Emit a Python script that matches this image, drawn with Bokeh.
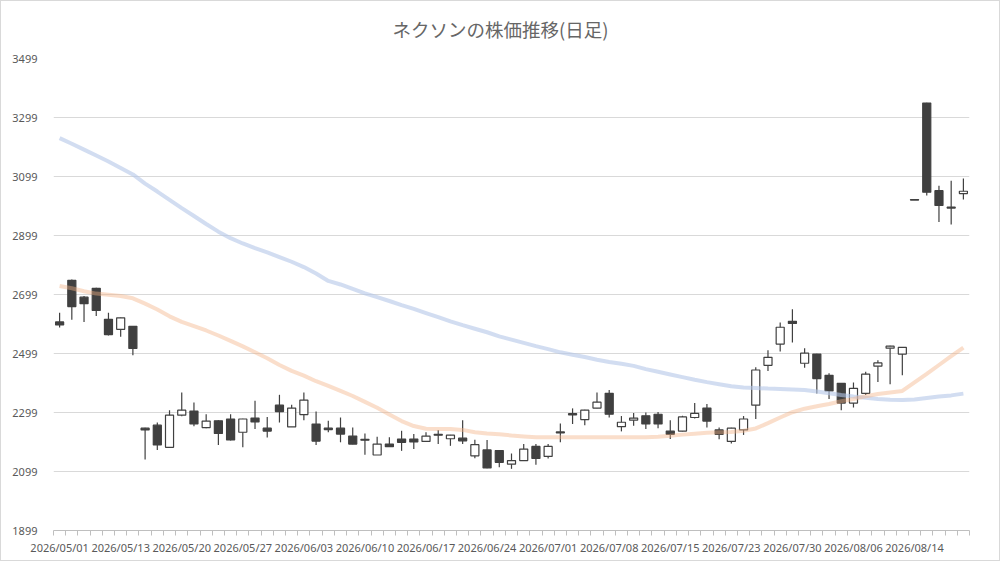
from bokeh.plotting import figure
from bokeh.models import Range1d, FixedTicker, ColumnDataSource
from bokeh.embed import file_html
from bokeh.resources import INLINE

title_text = "ネクソンの株価推移(日足)"

dates = [
    "2026/05/01", "2026/05/07", "2026/05/08", "2026/05/11", "2026/05/12",
    "2026/05/13", "2026/05/14", "2026/05/15", "2026/05/18", "2026/05/19",
    "2026/05/20", "2026/05/21", "2026/05/22", "2026/05/25", "2026/05/26",
    "2026/05/27", "2026/05/28", "2026/05/29", "2026/06/01", "2026/06/02",
    "2026/06/03", "2026/06/04", "2026/06/05", "2026/06/08", "2026/06/09",
    "2026/06/10", "2026/06/11", "2026/06/12", "2026/06/15", "2026/06/16",
    "2026/06/17", "2026/06/18", "2026/06/19", "2026/06/22", "2026/06/23",
    "2026/06/24", "2026/06/25", "2026/06/26", "2026/06/29", "2026/06/30",
    "2026/07/01", "2026/07/02", "2026/07/03", "2026/07/06", "2026/07/07",
    "2026/07/08", "2026/07/09", "2026/07/10", "2026/07/13", "2026/07/14",
    "2026/07/15", "2026/07/16", "2026/07/17", "2026/07/21", "2026/07/22",
    "2026/07/23", "2026/07/24", "2026/07/27", "2026/07/28", "2026/07/29",
    "2026/07/30", "2026/07/31", "2026/08/03", "2026/08/04", "2026/08/05",
    "2026/08/06", "2026/08/07", "2026/08/10", "2026/08/12", "2026/08/13",
    "2026/08/14", "2026/08/17", "2026/08/18", "2026/08/19", "2026/08/20",
]

open_ = [
    2606, 2747, 2690, 2720, 2615, 2581, 2591, 2246, 2256, 2181,
    2290, 2304, 2248, 2271, 2277, 2232, 2280, 2246, 2324, 2250,
    2292, 2260, 2246, 2246, 2219, 2208, 2155, 2192, 2209, 2209,
    2201, 2225, 2210, 2212, 2152, 2172, 2170, 2124, 2136, 2184,
    2150, 2233, 2295, 2275, 2314, 2364, 2251, 2273, 2288, 2293,
    2236, 2236, 2282, 2314, 2240, 2201, 2240, 2324, 2459, 2531,
    2608, 2466, 2497, 2425, 2398, 2331, 2364, 2456, 2517, 2497,
    3021, 3348, 3051, 2995, 3041,
]
high = [
    2637, 2750, 2694, 2722, 2637, 2621, 2592, 2247, 2265, 2307,
    2367, 2333, 2293, 2273, 2293, 2278, 2339, 2284, 2359, 2325,
    2367, 2302, 2271, 2282, 2248, 2228, 2217, 2215, 2237, 2226,
    2232, 2240, 2223, 2273, 2207, 2206, 2171, 2160, 2192, 2192,
    2192, 2262, 2313, 2308, 2367, 2375, 2287, 2297, 2299, 2301,
    2273, 2288, 2331, 2328, 2248, 2247, 2287, 2452, 2510, 2604,
    2649, 2517, 2498, 2432, 2399, 2401, 2437, 2476, 2525, 2521,
    3021, 3349, 3068, 3085, 3092,
]
low = [
    2587, 2613, 2606, 2626, 2560, 2556, 2493, 2140, 2172, 2179,
    2286, 2252, 2246, 2189, 2204, 2181, 2243, 2214, 2265, 2250,
    2273, 2189, 2232, 2198, 2191, 2156, 2155, 2183, 2169, 2175,
    2200, 2192, 2186, 2192, 2144, 2110, 2113, 2108, 2135, 2122,
    2143, 2198, 2260, 2256, 2313, 2282, 2235, 2254, 2243, 2246,
    2209, 2235, 2279, 2248, 2208, 2194, 2223, 2277, 2440, 2506,
    2536, 2451, 2363, 2345, 2307, 2316, 2358, 2402, 2395, 2425,
    3019, 3035, 2945, 2936, 3021,
]
close = [
    2596, 2658, 2668, 2645, 2563, 2620, 2516, 2240, 2189, 2290,
    2307, 2260, 2270, 2228, 2206, 2277, 2267, 2236, 2302, 2314,
    2341, 2202, 2241, 2226, 2192, 2205, 2192, 2183, 2198, 2199,
    2219, 2222, 2222, 2203, 2190, 2111, 2130, 2136, 2175, 2143,
    2184, 2230, 2291, 2307, 2334, 2293, 2266, 2280, 2260, 2260,
    2225, 2284, 2296, 2270, 2225, 2246, 2277, 2443, 2486, 2588,
    2601, 2500, 2414, 2372, 2331, 2381, 2429, 2467, 2524, 2520,
    3019, 3046, 3001, 2992, 3049,
]
ma_short = [
    2728, 2720, 2710, 2702, 2698, 2694, 2686, 2668, 2648, 2625,
    2606, 2592, 2577, 2560, 2542, 2523, 2503, 2483, 2460, 2440,
    2424, 2405, 2389, 2372, 2355, 2335, 2315, 2292, 2270, 2253,
    2244, 2243, 2243, 2240, 2232, 2228, 2225, 2221, 2218, 2215,
    2215, 2215, 2215, 2215, 2215, 2215, 2215, 2215, 2215, 2217,
    2220, 2224, 2227, 2230, 2232, 2233, 2237, 2245, 2263, 2282,
    2300, 2312, 2320, 2328, 2337, 2345, 2354, 2362, 2367, 2372,
    2401, 2430, 2460, 2490, 2519,
]
ma_long = [
    3229, 3210, 3190, 3170, 3150, 3128, 3106, 3075, 3048, 3020,
    2992, 2965, 2938, 2912, 2890, 2872, 2856, 2842, 2826, 2810,
    2792, 2770, 2745, 2733, 2718, 2703, 2690, 2677, 2663, 2650,
    2636, 2622, 2608, 2595, 2583, 2571, 2557, 2546, 2535, 2524,
    2514, 2503, 2495, 2487, 2478, 2470, 2464, 2457, 2446, 2437,
    2428, 2419, 2410, 2402, 2395, 2388, 2384, 2382, 2380, 2379,
    2377, 2375, 2370, 2364, 2358, 2353, 2349, 2345, 2342, 2341,
    2343, 2348, 2353, 2357, 2363,
]
y_ticks = [1899, 2099, 2299, 2499, 2699, 2899, 3099, 3299, 3499]

n = len(dates)
xs = list(range(n))
up = [c >= o for o, c in zip(open_, close)]
src = ColumnDataSource(dict(
    x=xs, open=open_, high=high, low=low, close=close,
    top=[max(o, c) for o, c in zip(open_, close)],
    bottom=[min(o, c) for o, c in zip(open_, close)],
    fill=["#FFFFFF" if u else "#404040" for u in up],
))

p = figure(width=1000, height=561, output_backend="svg", toolbar_location=None,
           x_range=Range1d(-0.5, n - 0.5), y_range=Range1d(1899, 3499),
           min_border_left=53, min_border_right=31, min_border_top=57,
           min_border_bottom=31)
p.outline_line_color = None
p.background_fill_color = "#FFFFFF"
p.border_fill_color = "#FFFFFF"

p.title.text = title_text
p.title.align = "left"
p.title.offset = 339
p.title.vertical_align = "top"
p.title.text_font = "Noto Sans CJK JP"
p.title.text_font_size = "18.5px"
p.title.text_font_style = "normal"
p.title.text_color = "#666666"
p.title.standoff = 30

p.segment(x0="x", y0="high", x1="x", y1="low", source=src,
          line_color="#404040", line_width=1.2)
p.vbar(x="x", width=0.66, top="top", bottom="bottom", source=src,
       fill_color="fill", line_color="#404040", line_width=1.2)

p.line(xs, ma_long, line_color="#B4C7E7", line_alpha=0.6, line_width=4)
p.line(xs, ma_short, line_color="#F4B183", line_alpha=0.42, line_width=4)

p.xgrid.grid_line_color = None
p.ygrid.grid_line_color = "#D9D9D9"
p.ygrid.ticker = FixedTicker(ticks=y_ticks)

xa = p.xaxis[0]
label_idx = list(range(0, n, 5))
xa.ticker = FixedTicker(ticks=label_idx, minor_ticks=[i - 0.5 for i in range(n + 1)])
xa.major_label_overrides = {i: dates[i] for i in label_idx}
xa.axis_line_color = "#BFBFBF"
xa.major_tick_line_color = None
xa.major_tick_out = 0
xa.major_tick_in = 0
xa.minor_tick_line_color = "#BFBFBF"
xa.minor_tick_out = 5
xa.minor_tick_in = 0
xa.major_label_standoff = 4
xa.major_label_text_font = "Noto Sans"
xa.major_label_text_font_size = "11px"
xa.major_label_text_color = "#595959"

ya = p.yaxis[0]
ya.ticker = FixedTicker(ticks=y_ticks)
ya.axis_line_color = None
ya.major_tick_line_color = None
ya.minor_tick_line_color = None
ya.major_label_standoff = 10
ya.major_label_text_font = "Noto Sans"
ya.major_label_text_font_size = "11px"
ya.major_label_text_color = "#595959"

css = ("<style>html,body{margin:0;padding:0;overflow:hidden;}"
       "body::after{content:'';position:fixed;left:0;top:0;width:1000px;height:561px;"
       "box-sizing:border-box;border:1px solid #D9D9D9;pointer-events:none;z-index:10;}"
       "</style>")
html = file_html(p, INLINE)
html = html.replace("<head>", "<head>" + css, 1)
open("out.html", "w").write(html)
